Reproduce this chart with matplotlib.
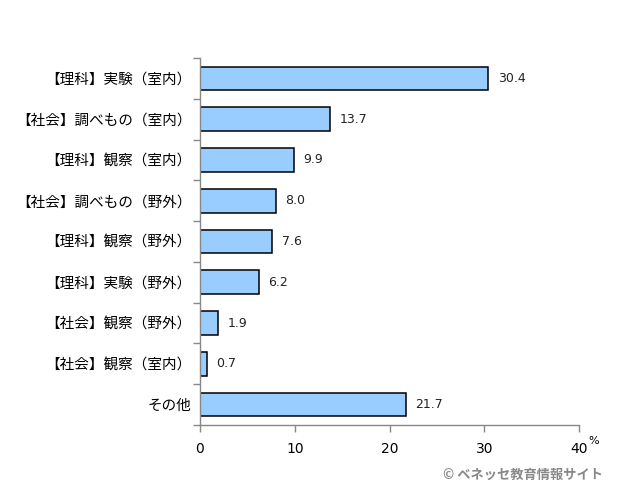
import matplotlib
matplotlib.use("Agg")
import matplotlib.pyplot as plt
from matplotlib.ticker import FixedLocator

plt.rcParams['font.family'] = ['Noto Sans CJK JP', 'DejaVu Sans']

categories = ['【理科】実験（室内）', '【社会】調べもの（室内）', '【理科】観察（室内）',
              '【社会】調べもの（野外）', '【理科】観察（野外）', '【理科】実験（野外）',
              '【社会】観察（野外）', '【社会】観察（室内）', 'その他']
values = [30.4, 13.7, 9.9, 8.0, 7.6, 6.2, 1.9, 0.7, 21.7]
xticks = [0, 10, 20, 30, 40]

fig = plt.figure(figsize=(6.4, 4.99), dpi=100)
ax = fig.add_axes([0.3125, 0.1483, 0.5922, 0.7355])

y = list(range(len(categories)))
ax.barh(y, values, height=0.58, color='#99CCFF', edgecolor='black', linewidth=1.1)
for yi, v in zip(y, values):
    ax.annotate(f'{v:.1f}', xy=(v, yi), xytext=(7, 0), textcoords='offset points',
                va='center', ha='left', fontsize=9, color='#222222', family='DejaVu Sans')

ax.set_xlim(0, 40)
ax.set_ylim(len(categories) - 0.5, -0.5)
ax.set_xticks(xticks)
ax.set_xticklabels([str(t) for t in xticks], fontsize=10, family='DejaVu Sans')
ax.set_yticks(y)
ax.set_yticklabels(categories, fontsize=10.5)
ax.yaxis.set_minor_locator(FixedLocator([i - 0.5 for i in range(len(categories) + 1)]))
ax.tick_params(axis='y', which='major', length=0, pad=6)
ax.tick_params(axis='y', which='minor', length=5, width=1, color='#888888', direction='out')
ax.tick_params(axis='x', length=5, width=1, color='#888888', direction='out', pad=7)
for s in ['top', 'right']:
    ax.spines[s].set_visible(False)
for s in ['left', 'bottom']:
    ax.spines[s].set_color('#888888')
    ax.spines[s].set_linewidth(1)

fig.text(594 / 640, 1 - 441 / 499, '%', fontsize=8, ha='center', va='center', family='DejaVu Sans')
fig.text(603 / 640, 1 - 475 / 499, '© ベネッセ教育情報サイト', fontsize=9.5, ha='right', va='center',
         color='#888888', fontweight='bold')

fig.savefig('out.png', dpi=100)
